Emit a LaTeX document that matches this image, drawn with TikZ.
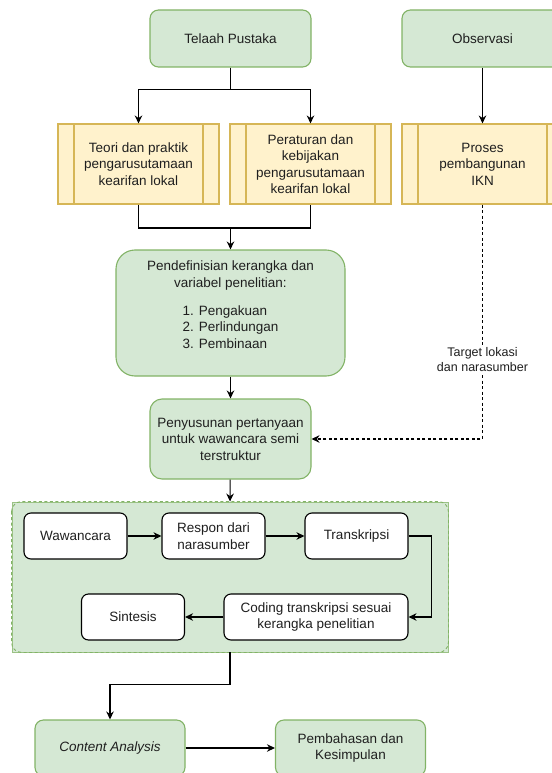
\documentclass[tikz,border=0pt]{standalone}
\usepackage{fontspec}
\setmainfont{Liberation Sans}
\usetikzlibrary{arrows.meta}

\definecolor{greenfill}{HTML}{D5E8D4}
\definecolor{greenline}{HTML}{82B366}
\definecolor{yellowfill}{HTML}{FFF2CC}
\definecolor{yellowline}{HTML}{D6B656}
\definecolor{inktext}{HTML}{1F1F1F}

% one row of the numbered list, left aligned in a centred block
\newcommand{\listrow}[1]{\makebox[96pt][l]{#1}\hspace*{14pt}}

\tikzset{
  basebox/.style={rectangle, draw, line width=1.1pt, align=center, inner sep=0pt,
    text=inktext, font=\fontsize{13.5}{16.5}\selectfont},
  greenbox/.style={basebox, fill=greenfill, draw=greenline},
  yellowbox/.style={basebox, fill=yellowfill, draw=yellowline,
    minimum width=161pt, minimum height=80pt,
    path picture={
      \draw[yellowline, line width=1.1pt]
        ([xshift=16pt]path picture bounding box.north west) -- ([xshift=16pt]path picture bounding box.south west)
        ([xshift=-16pt]path picture bounding box.north east) -- ([xshift=-16pt]path picture bounding box.south east);
    }},
  whitebox/.style={basebox, fill=white, draw=black, rounded corners=7pt, minimum height=46pt},
  groupbox/.style={rectangle, fill=greenfill, draw=greenline!80, line width=0.9pt,
    minimum width=436pt, minimum height=150pt},
  flowline/.style={line width=1.1pt, draw=black},
  flow/.style={flowline, -{Stealth[length=8pt, width=7.5pt]}},
  dashflow/.style={flow, dash pattern=on 3pt off 2.5pt},
}

\begin{document}
\begin{tikzpicture}[x = 1pt, y = -1pt]
	\useasboundingbox (0, 0) rectangle (551, 773);

	% Sources
	\node[greenbox, rounded corners=8.5pt, minimum width=161pt, minimum height=57pt] (telaah) at (230.5, 38.5) {Telaah Pustaka};
	\node[greenbox, rounded corners=8.5pt, minimum width=161pt, minimum height=57pt] (observasi) at (482.5, 38.5) {Observasi};

	% Process boxes
	\node[yellowbox] (teori) at (138.5, 164) {Teori dan praktik\\pengarusutamaan\\kearifan lokal};
	\node[yellowbox] (aturan) at (310.5, 164) {Peraturan dan\\kebijakan\\pengarusutamaan\\kearifan lokal};
	\node[yellowbox] (proses) at (482.5, 164) {Proses\\pembangunan\\IKN};

	% Framework and questions
	\node[greenbox, rounded corners=19pt, minimum width=229pt, minimum height=126pt] (kerangka) at (230.5, 313)
		{Pendefinisian kerangka dan\\variabel penelitian:\\[11.5pt]\listrow{1. Pengakuan}\\\listrow{2. Perlindungan}\\\listrow{3. Pembinaan}\\\mbox{}};
	\node[greenbox, rounded corners=12pt, minimum width=161pt, minimum height=80pt] (susun) at (230.5, 439)
		{Penyusunan pertanyaan\\untuk wawancara semi\\terstruktur};

	% Interview group
	\node[groupbox] (wawancaragrp) at (230, 577) {};
	\draw[greenline, line width=0.9pt, dash pattern=on 3pt off 2.5pt, rounded corners=10pt]
		(wawancaragrp.north west) rectangle (wawancaragrp.south east);

	\node[whitebox, minimum width=103pt] (wawancara) at (75.5, 536) {Wawancara};
	\node[whitebox, minimum width=103pt] (respon) at (213.5, 536) {Respon dari\\narasumber};
	\node[whitebox, minimum width=103pt] (transkripsi) at (356.5, 536) {Transkripsi};
	\node[whitebox, minimum width=184pt] (coding) at (316, 617) {Coding transkripsi sesuai\\kerangka penelitian};
	\node[whitebox, minimum width=103pt] (sintesis) at (133, 617) {Sintesis};

	% Analysis
	\node[greenbox, rounded corners=8.5pt, minimum width=150pt, minimum height=56pt] (analisis) at (110, 748) {\itshape Content Analysis};
	\node[greenbox, rounded corners=8.5pt, minimum width=150pt, minimum height=56pt] (bahas) at (350.5, 748) {Pembahasan dan\\Kesimpulan};

	% Edges
	% Telaah Pustaka to both studies
	\draw[flow] (telaah.south) -- ++(0, 22) -| (teori.north);
	\draw[flow] (telaah.south) -- ++(0, 22) -| (aturan.north);
	\draw[flow] (observasi) -- (proses);

	% Studies join into framework
	\coordinate (gabung) at (230.5, 228);
	\draw[flowline] (teori.south) |- (gabung) -| (aturan.south);
	\draw[flow] (gabung) -- (kerangka.north);
	\draw[flow] (kerangka) -- (susun);

	% Observation to questions
	\draw[dashflow] (proses.south) |- node[pos=0.33, fill=white, inner sep=1pt, align=center, text=inktext,
		font=\fontsize{12.5}{15.5}\selectfont] {Target lokasi\\dan narasumber} (susun.east);

	% Interview steps
	\draw[flow] (susun) -- (wawancaragrp.north);
	\draw[flow] (wawancara) -- (respon);
	\draw[flow] (respon) -- (transkripsi);
	\draw[flow] (transkripsi.east) -- ++(23, 0) |- (coding.east);
	\draw[flow] (coding) -- (sintesis);

	% Group to analysis
	\draw[flow] (wawancaragrp.south) -- ++(0, 32) -| (analisis.north);
	\draw[flow] (analisis) -- (bahas);
\end{tikzpicture}
\end{document}
